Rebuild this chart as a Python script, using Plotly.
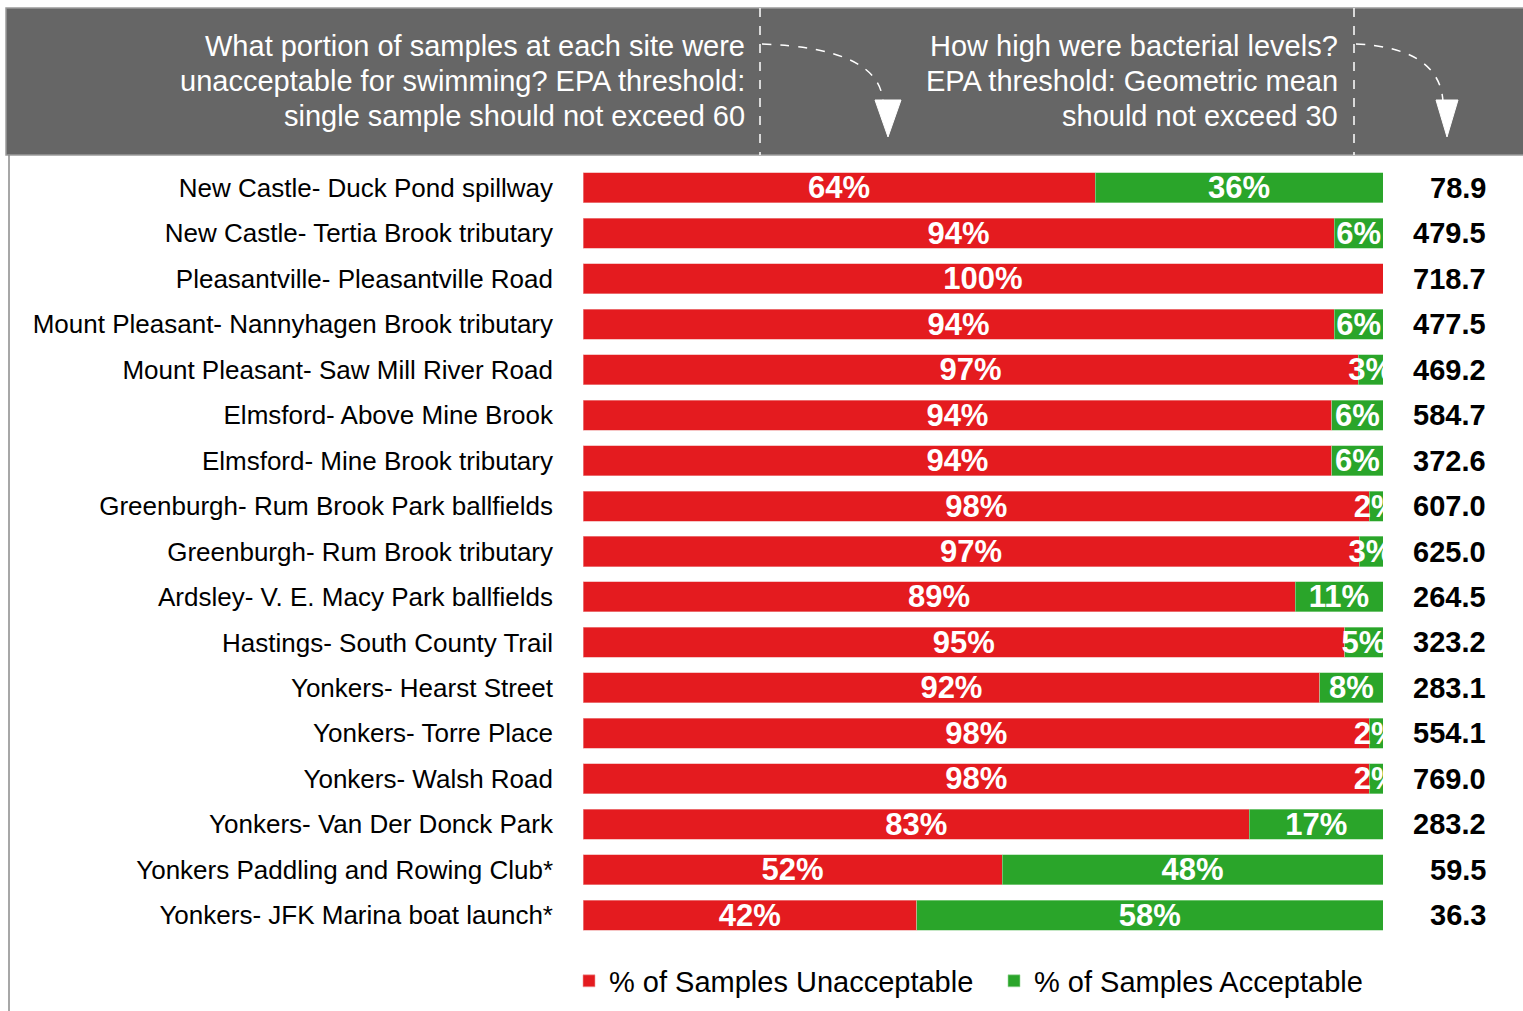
import plotly.graph_objects as go

sites = [
    "New Castle- Duck Pond spillway",
    "New Castle- Tertia Brook tributary",
    "Pleasantville- Pleasantville Road",
    "Mount Pleasant- Nannyhagen Brook tributary",
    "Mount Pleasant- Saw Mill River Road",
    "Elmsford- Above Mine Brook",
    "Elmsford- Mine Brook tributary",
    "Greenburgh- Rum Brook Park ballfields",
    "Greenburgh- Rum Brook tributary",
    "Ardsley- V. E. Macy Park ballfields",
    "Hastings- South County Trail",
    "Yonkers- Hearst Street",
    "Yonkers- Torre Place",
    "Yonkers- Walsh Road",
    "Yonkers- Van Der Donck Park",
    "Yonkers Paddling and Rowing Club*",
    "Yonkers- JFK Marina boat launch*",
]
unacceptable = [64, 93.9, 100, 93.9, 96.9, 93.6, 93.6, 98.3, 97.0, 89.0, 95.2, 92.1, 98.3, 98.3, 83.3, 52.4, 41.7]
acceptable = [36, 6.1, 0, 6.1, 3.1, 6.4, 6.4, 1.7, 3.0, 11.0, 4.8, 7.9, 1.7, 1.7, 16.7, 47.6, 58.3]
unacc_labels = ["64%", "94%", "100%", "94%", "97%", "94%", "94%", "98%", "97%", "89%", "95%", "92%", "98%", "98%", "83%", "52%", "42%"]
acc_labels = ["36%", "6%", "", "6%", "3%", "6%", "6%", "2%", "3%", "11%", "5%", "8%", "2%", "2%", "17%", "48%", "58%"]
geomean = ["78.9", "479.5", "718.7", "477.5", "469.2", "584.7", "372.6", "607.0", "625.0", "264.5",
           "323.2", "283.1", "554.1", "769.0", "283.2", "59.5", "36.3"]
header_left = ["What portion of samples at each site were",
               "unacceptable for swimming? EPA threshold:",
               "single sample should not exceed 60"]
header_right = ["How high were bacterial levels?",
                "EPA threshold: Geometric mean",
                "should not exceed 30"]

W, H = 1523, 1011
L, R, T, B = 583, 140, 165, 73
PW, PH = W - L - R, H - T - B


def px(x):
    return (x - L) / PW


def py(y):
    return (H - B - y) / PH


RED = "#E41B1F"
GREEN = "#2AA52A"
SANS = "Liberation Sans, Arial, sans-serif"

fig = go.Figure()
fig.add_trace(go.Bar(
    y=sites, x=unacceptable, orientation="h", name="% of Samples Unacceptable",
    marker=dict(color=RED, line=dict(color="#f0a0a0", width=0.6)),
    text=unacc_labels, textposition="inside", insidetextanchor="middle", textangle=0,
    textfont=dict(color="white", size=31, family=SANS, weight="bold"),
    hoverinfo="skip",
))
fig.add_trace(go.Bar(
    y=sites, x=acceptable, orientation="h", name="% of Samples Acceptable",
    marker=dict(color=GREEN, line=dict(color="#a0d8a0", width=0.6)),
    text=acc_labels, textposition="inside", insidetextanchor="middle", textangle=0,
    textfont=dict(color="white", size=31, family=SANS, weight="bold"),
    hoverinfo="skip",
))

annotations = []
for s, g in zip(sites, geomean):
    annotations.append(dict(
        x=px(1488), xref="paper", y=s, yref="y", text=g, showarrow=False,
        xanchor="right", yanchor="middle",
        font=dict(size=29, family=SANS, color="black", weight="bold"),
    ))

for lines, xr in ((header_left, 747), (header_right, 1340)):
    for i, line in enumerate(lines):
        annotations.append(dict(
            x=px(xr), y=py(46 + 35 * i), xref="paper", yref="paper",
            xanchor="right", yanchor="middle", showarrow=False, text=line,
            font=dict(size=29, family=SANS, color="white"),
        ))

shapes = [
    dict(type="rect", xref="paper", yref="paper", x0=px(6), x1=px(1530), y0=py(155), y1=py(8),
         fillcolor="#666666", line=dict(color="#9a9a9a", width=1.5), layer="below"),
    dict(type="line", xref="paper", yref="paper", x0=px(9), x1=px(9), y0=py(155), y1=py(1015),
         line=dict(color="#8a8a8a", width=1.5)),
]
for xv in (760, 1354):
    shapes.append(dict(type="line", xref="paper", yref="paper", x0=px(xv), x1=px(xv),
                       y0=py(8), y1=py(155), line=dict(color="white", width=1.5, dash="dash")))


def curve(x0, y0, cx, cy, x1, y1):
    return f"M {px(x0)},{py(y0)} Q {px(cx)},{py(cy)} {px(x1)},{py(y1)}"


def tri(xl, xr, yt, xt, yb):
    return f"M {px(xl)},{py(yt)} L {px(xr)},{py(yt)} L {px(xt)},{py(yb)} Z"


shapes += [
    dict(type="path", xref="paper", yref="paper", path=curve(762, 44, 880, 48, 883, 102),
         line=dict(color="white", width=1.5, dash="dash")),
    dict(type="path", xref="paper", yref="paper", path=curve(1356, 44, 1440, 48, 1443, 102),
         line=dict(color="white", width=1.5, dash="dash")),
    dict(type="path", xref="paper", yref="paper", path=tri(875, 901, 100, 888, 137),
         fillcolor="white", line=dict(color="white", width=1)),
    dict(type="path", xref="paper", yref="paper", path=tri(1436, 1458, 100, 1447, 137),
         fillcolor="white", line=dict(color="white", width=1)),
]

fig.update_layout(
    width=W, height=H,
    margin=dict(l=L, r=R, t=T, b=B, pad=0, autoexpand=False),
    paper_bgcolor="white", plot_bgcolor="white",
    barmode="stack", bargap=0.34,
    uniformtext=dict(minsize=31, mode="show"),
    xaxis=dict(range=[0, 100], visible=False, fixedrange=True, automargin=False),
    yaxis=dict(range=[16.5, -0.5], showgrid=False, zeroline=False, showline=False,
               ticks="", ticklabelstandoff=29, automargin=False, fixedrange=True,
               tickfont=dict(size=26, family=SANS, color="black")),
    showlegend=True,
    legend=dict(orientation="h", x=px(569), y=py(981), xanchor="left", yanchor="middle",
                font=dict(size=29, family=SANS, color="black"), traceorder="normal",
                itemwidth=30, entrywidth=380, bgcolor="rgba(0,0,0,0)"),
    annotations=annotations,
    shapes=shapes,
    font=dict(family=SANS),
)

fig.write_html("out.html", config={"displayModeBar": False},
               post_script="document.body.style.margin='0';")
